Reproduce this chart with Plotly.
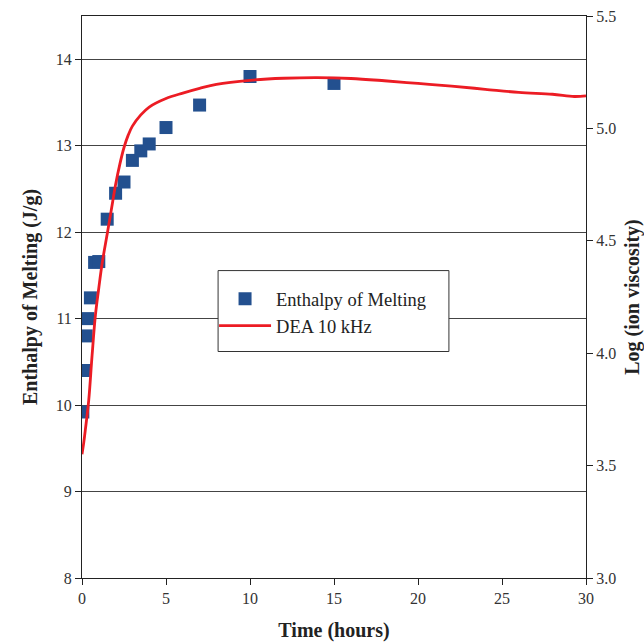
import plotly.graph_objects as go

# Enthalpy of melting data (left axis)
time_pts = [0.05, 0.15, 0.25, 0.35, 0.5, 0.75, 1.0, 1.5, 2.0, 2.5, 3.0, 3.5, 4.0, 5.0, 7.0, 10.0, 15.0]
enthalpy = [9.92, 10.40, 10.80, 11.00, 11.24, 11.65, 11.66, 12.15, 12.45, 12.58, 12.83, 12.94, 13.02, 13.21, 13.47, 13.80, 13.72]

# DEA 10 kHz curve (right axis)
time_dea = [0, 0.1, 0.2, 0.4, 0.6, 0.8, 1.0, 1.2, 1.5, 1.75, 2.0, 2.25, 2.5, 2.75, 3.0, 3.5, 4.0,
            5.0, 6.0, 7.0, 8.0, 10, 12, 14, 16, 18, 20, 22, 24, 26, 28, 29.3, 30]
log_visc = [3.55, 3.60, 3.66, 3.79, 3.99, 4.17, 4.29, 4.40, 4.53, 4.64, 4.75, 4.84, 4.915, 4.97, 5.01, 5.06, 5.095,
            5.133, 5.157, 5.178, 5.196, 5.214, 5.223, 5.226, 5.222, 5.212, 5.200, 5.188, 5.174, 5.160, 5.152, 5.142, 5.145]

x_ticks = [0, 5, 10, 15, 20, 25, 30]
y_ticks = [8, 9, 10, 11, 12, 13, 14]
y2_ticks = [3.0, 3.5, 4.0, 4.5, 5.0, 5.5]

FONT = "Liberation Serif"
TICKF = dict(family=FONT, size=16, color="#333")
TITLEF = dict(family=FONT, size=20, color="#222")

fig = go.Figure()
fig.add_trace(go.Scatter(
    x=time_pts, y=enthalpy, mode="markers", name="Enthalpy of Melting",
    marker=dict(symbol="square", size=13, color="#23508f", line=dict(width=0)),
))
fig.add_trace(go.Scatter(
    x=time_dea, y=log_visc, mode="lines", name="DEA 10 kHz", yaxis="y2",
    line=dict(color="#ec1c24", width=2.8, shape="spline", smoothing=1.0),
))

# legend frame
fig.add_shape(type="rect", xref="paper", yref="paper", x0=0.27, x1=0.728, y0=0.403, y1=0.547,
              line=dict(color="#333", width=1), fillcolor="white", layer="above")

fig.update_layout(
    width=644, height=642,
    margin=dict(l=82, r=58, t=16, b=64),
    paper_bgcolor="white", plot_bgcolor="white",
    font=dict(family=FONT, size=16, color="#333"),
    xaxis=dict(
        range=[0, 30], tickvals=x_ticks, ticks="outside", ticklen=6, tickcolor="#222",
        showline=True, linecolor="#222", linewidth=1, mirror=True, showgrid=False, zeroline=False,
        title=dict(text="<b>Time (hours)</b>", font=TITLEF, standoff=16),
        tickfont=TICKF, automargin=False,
    ),
    yaxis=dict(
        range=[8, 14.5], tickvals=y_ticks, ticks="outside", ticklen=6, tickcolor="#222",
        showline=True, linecolor="#222", linewidth=1, showgrid=True, gridcolor="#444", gridwidth=1,
        zeroline=False,
        title=dict(text="<b>Enthalpy of Melting (J/g)</b>", font=TITLEF, standoff=12),
        tickfont=TICKF, automargin=False,
    ),
    yaxis2=dict(
        range=[3.0, 5.5], tickvals=y2_ticks, tickformat=".1f", overlaying="y", side="right",
        ticks="outside", ticklen=6, tickcolor="#222", showline=True, linecolor="#222", linewidth=1,
        showgrid=False, zeroline=False,
        title=dict(text="<b>Log (ion viscosity)</b>", font=TITLEF, standoff=10),
        tickfont=TICKF, automargin=False,
    ),
    legend=dict(
        x=0.262, y=0.53, xanchor="left", yanchor="top",
        bgcolor="rgba(0,0,0,0)", borderwidth=0,
        font=dict(family=FONT, size=18.5, color="#222"),
        itemwidth=52, tracegroupgap=4,
    ),
    showlegend=True,
)

fig.write_html("out.html")
